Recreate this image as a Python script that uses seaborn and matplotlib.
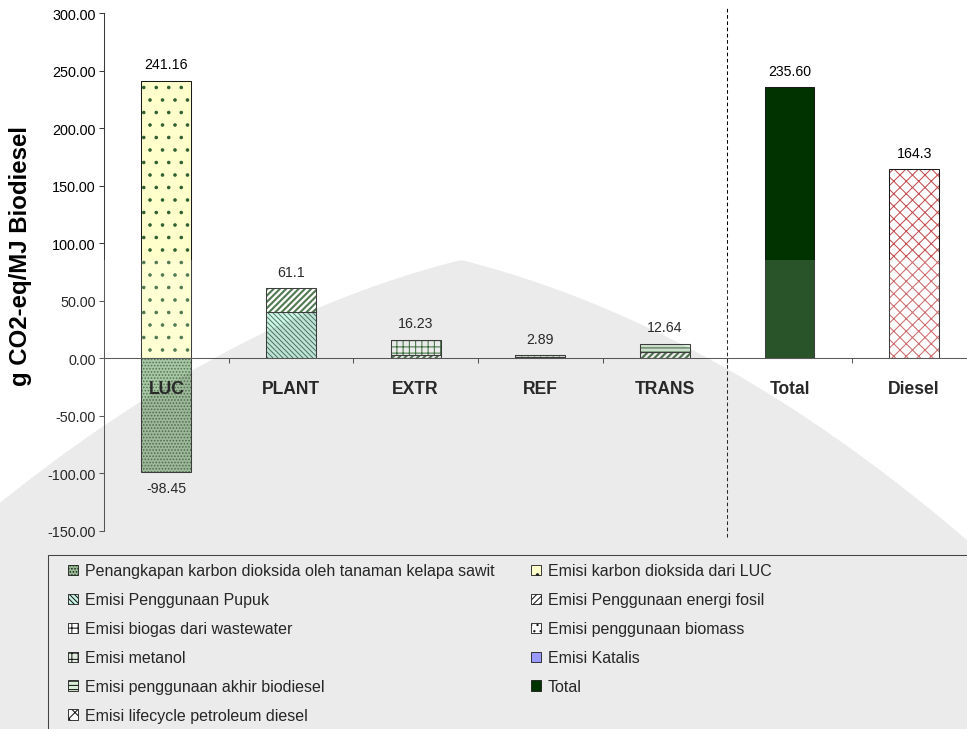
import numpy as np
import pandas as pd
import matplotlib
matplotlib.use("Agg")
import matplotlib.pyplot as plt
import seaborn as sns
from matplotlib.patches import Patch, Rectangle, Polygon
from matplotlib.ticker import FixedLocator, FuncFormatter

# ---- data (g CO2-eq / MJ biodiesel) ----
categories = ["LUC", "PLANT", "EXTR", "REF", "TRANS", "Total", "Diesel"]

penangkapan_co2 = [-98.45, 0, 0, 0, 0, 0, 0]
emisi_luc = [241.16, 0, 0, 0, 0, 0, 0]
emisi_pupuk = [0, 40.6, 0, 0, 0, 0, 0]
emisi_energi_fosil = [0, 20.5, 2.6, 1.2, 5.5, 0, 0]
emisi_biogas = [0, 0, 13.63, 0, 0, 0, 0]
emisi_biomass = [0, 0, 0, 0, 0, 0, 0]
emisi_metanol = [0, 0, 0, 1.5, 0, 0, 0]
emisi_katalis = [0, 0, 0, 0.19, 0, 0, 0]
emisi_akhir_biodiesel = [0, 0, 0, 0, 7.14, 0, 0]
total_emisi = [0, 0, 0, 0, 0, 235.60, 0]
diesel_lifecycle = [0, 0, 0, 0, 0, 0, 164.3]

top_labels = ["241.16", "61.1", "16.23", "2.89", "12.64", "235.60", "164.3"]
top_values = [241.16, 61.1, 16.23, 2.89, 12.64, 235.60, 164.3]
bottom_label = "-98.45"
bottom_value = -98.45

series_names = [
    "Penangkapan karbon dioksida oleh tanaman kelapa sawit",
    "Emisi karbon dioksida dari LUC",
    "Emisi Penggunaan Pupuk",
    "Emisi Penggunaan energi fosil",
    "Emisi biogas dari wastewater",
    "Emisi penggunaan biomass",
    "Emisi metanol",
    "Emisi Katalis",
    "Emisi penggunaan akhir biodiesel",
    "Total",
    "Emisi lifecycle petroleum diesel",
]
series_values = [
    penangkapan_co2, emisi_luc, emisi_pupuk, emisi_energi_fosil, emisi_biogas,
    emisi_biomass, emisi_metanol, emisi_katalis, emisi_akhir_biodiesel,
    total_emisi, diesel_lifecycle,
]
# face colour, hatch, hatch colour, hatch line width
series_styles = [
    ("#98bc94", "....", "#2f5a2f", 1.0),
    ("#ffffcc", ".", "#2f5f2f", 1.0),
    ("#c8f5e8", "\\\\\\\\\\", "#2e6b4a", 1.0),
    ("#ffffff", "////", "#2f5f2f", 2.0),
    ("#ffffff", "++", "#1f5f1f", 1.0),
    ("#ffffff", "..", "#4f7f4f", 1.0),
    ("#e2efe0", "++", "#6a9a6a", 1.0),
    ("#9999ff", "", "#333333", 1.0),
    ("#d8f0d8", "---", "#1f4f1f", 1.0),
    ("#003300", "", "#003300", 1.0),
    ("#ffffff", "xx", "#c44e52", 1.0),
]
outline = "#1a1a1a"

# ---- figure ----
sns.set_theme(style="white")
plt.rcParams["font.family"] = ["Liberation Sans", "DejaVu Sans"]

DPI = 75
W, H = 967, 730
fig = plt.figure(figsize=(W / DPI, H / DPI), dpi=DPI, facecolor="white")
ax = fig.add_axes([104 / W, (H - 532) / H, (976.5 - 104) / W, (532 - 14) / H])
ax.set_facecolor("none")

pos_base = np.zeros(len(categories))
neg_base = np.zeros(len(categories))
for vals, (face, hatch, hc, hlw) in zip(series_values, series_styles):
    vals = np.asarray(vals, dtype=float)
    bottoms = np.where(vals >= 0, pos_base, neg_base)
    idx = np.flatnonzero(vals)
    if len(idx):
        frame = pd.DataFrame({"stage": [categories[i] for i in idx],
                              "value": vals[idx]})
        with plt.rc_context({"hatch.linewidth": hlw}):
            sns.barplot(data=frame, x="stage", y="value", order=categories,
                        bottom=bottoms[idx], width=0.4, color=face,
                        saturation=1, errorbar=None, hatch=hatch or None,
                        edgecolor=hc, linewidth=0, ax=ax, zorder=1)
        sns.barplot(data=frame, x="stage", y="value", order=categories,
                    bottom=bottoms[idx], width=0.4, fill=False, color=outline,
                    saturation=1, errorbar=None, edgecolor=outline,
                    linewidth=1.0, ax=ax, zorder=1.2)
    pos_base += np.clip(vals, 0, None)
    neg_base += np.clip(vals, None, 0)

# ---- axes styling ----
ax.set_xlim(-0.5, 6.5)
ax.set_ylim(-150, 300)
ax.set_xlabel("")
ax.set_ylabel("")
ax.set_axisbelow(False)
for side in ("top", "right"):
    ax.spines[side].set_visible(False)
ax.spines["bottom"].set_position(("data", 0))
for side in ("left", "bottom"):
    ax.spines[side].set_color("#3a3a3a")
    ax.spines[side].set_linewidth(1.0)

ax.set_yticks(np.arange(-150, 301, 50))
ax.yaxis.set_major_formatter(FuncFormatter(lambda v, p: f"{v:.2f}"))
ax.tick_params(axis="y", direction="out", length=5, width=1, color="#3a3a3a",
               labelsize=13.8, pad=3, left=True, labelcolor="black")

ax.set_xticks(range(len(categories)))
ax.set_xticklabels(categories, fontweight="bold", fontsize=16.8)
ax.tick_params(axis="x", which="major", length=0, pad=21, labelcolor="black")
ax.xaxis.set_minor_locator(FixedLocator(np.arange(0.5, 6.6, 1.0)))
ax.tick_params(axis="x", which="minor", direction="out", length=5, width=1,
               color="#3a3a3a", bottom=True)

# value labels
for i, (txt, v) in enumerate(zip(top_labels, top_values)):
    ax.annotate(txt, (i, v), xytext=(0, 9), textcoords="offset points",
                ha="center", va="bottom", fontsize=13.5, color="black")
ax.annotate(bottom_label, (0, bottom_value), xytext=(0, -9),
            textcoords="offset points", ha="center", va="top",
            fontsize=13.5, color="black")

# separator between stages and totals
ax.plot([4.5, 4.5], [-155, 305], color="black", lw=1.0,
        ls=(0, (3.5, 2.5)), clip_on=False, zorder=3)

# y axis title
fig.text(21 / W, 1 - 256 / H, "g CO2-eq/MJ Biodiesel", rotation=90,
         ha="center", va="center", fontsize=23, fontweight="bold",
         color="black")

# ---- legend ----
handles = [Patch(facecolor=f, hatch=h or None, edgecolor="#1a1a1a",
                 linewidth=0.8) for f, h, _, _ in series_styles]
order = [0, 2, 4, 6, 8, 10, 1, 3, 5, 7, 9]
fig.legend([handles[i] for i in order], [series_names[i] for i in order],
           loc="upper left", bbox_to_anchor=(68 / W, 1 - 564.5 / H),
           ncol=2, frameon=False, fontsize=15.4, handlelength=0.625,
           handleheight=0.625, handletextpad=0.44, columnspacing=2.25,
           labelspacing=0.87, borderaxespad=0, borderpad=0)
fig.patches.append(Rectangle((48 / W, -0.1), 1.0, 0.1 + (H - 556) / H,
                             transform=fig.transFigure, fill=False,
                             edgecolor="#222222", lw=1.0))

# faint page watermark over the lower part of the figure
fig.patches.append(Rectangle((0, 0), 1, (H - 261) / H,
                             transform=fig.transFigure, facecolor="white",
                             edgecolor="none", alpha=0.165, zorder=1))
px = np.linspace(0, W, 200)
dx = px - 461
py = np.minimum(261 + 0.25 * np.abs(dx) + 0.0006 * dx ** 2, H)
dome = np.column_stack([np.r_[px, W, 0] / W, 1 - np.r_[py, H, H] / H])
fig.patches.append(Polygon(dome, closed=True, transform=fig.transFigure,
                           facecolor="#252525", edgecolor="none",
                           alpha=0.09, zorder=1))

fig.savefig("out.png", dpi=DPI, facecolor="white")
